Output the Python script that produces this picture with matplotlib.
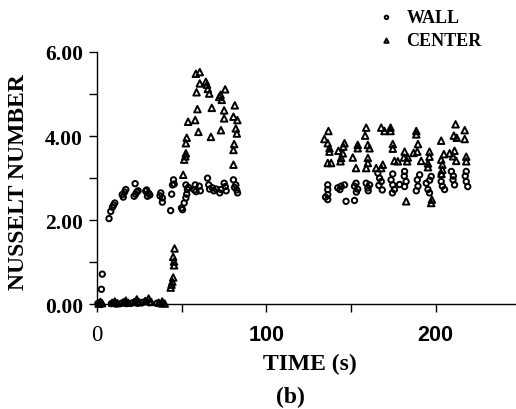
import numpy as np
import matplotlib
matplotlib.use('Agg')
import matplotlib.pyplot as plt
from matplotlib.ticker import MultipleLocator, FormatStrFormatter

# wall thermocouple, time (s) and Nusselt number
wall_t = [0.5, 1.5, 2.5, 8.5, 10, 11.5, 14.5, 16, 17.5, 21, 22.5, 24, 27, 29, 31, 35.5, 37, 38.5,
          2.6, 3.1,
          7.1, 8.1, 9.1, 10.5, 9.8, 14.9, 15.5, 17.0, 16.3, 21.9, 22.5, 23.5, 22.8, 24.3,
          28.8, 29.8, 30.5, 31.2, 29.3, 37.7, 38.6, 38.6, 37.2, 43.5, 44.1, 45.6, 45.2, 44.6,
          49.9, 50.5, 51.5, 52.5, 52.5, 53.4, 54.0, 53.0, 58, 57.5, 58.5, 60.4, 61, 65.3, 66,
          66.5, 68.2, 69, 70.5, 73.2, 72.5, 75.1, 75.8, 76.3, 80.6, 82, 81.2, 83, 82.5,
          136.3, 136.3, 136.3, 136.3, 135, 142.2, 144.2, 146.2, 143.5, 147.1, 152.1, 152.1,
          153, 154, 153.2, 159, 160, 161, 160.2, 165.9, 166.9, 167.9, 166.5, 168.5, 173.7,
          174.7, 175.7, 174.5, 174.7, 178.7, 181.7, 181.5, 182.6, 181.7, 189.2, 190.6, 189.6,
          188.6, 194.5, 195.5, 196.5, 197.4, 196.4, 203.3, 204, 203.3, 205.3, 209.3, 210.3,
          211.2, 210.5, 218.1, 217.5, 218.1, 219]
wall_nu = [0.02, 0.04, 0.0, 0.02, 0.03, 0.01, 0.03, 0.05, 0.02, 0.04, 0.06, 0.03, 0.05, 0.08, 0.04, 0.03, 0.01, 0.02,
           0.36, 0.72,
           2.04, 2.21, 2.31, 2.41, 2.36, 2.61, 2.55, 2.73, 2.67, 2.57, 2.87, 2.67, 2.62, 2.70,
           2.69, 2.57, 2.64, 2.60, 2.72, 2.65, 2.53, 2.43, 2.58, 2.23, 2.62, 2.86, 2.96, 2.84,
           2.29, 2.25, 2.41, 2.53, 2.84, 2.73, 2.78, 2.62, 2.84, 2.72, 2.68, 2.81, 2.70, 3.00, 2.84,
           2.74, 2.77, 2.70, 2.74, 2.73, 2.65, 2.88, 2.80, 2.70, 2.96, 2.84, 2.78, 2.65, 2.72,
           2.84, 2.73, 2.61, 2.49, 2.55, 2.77, 2.81, 2.84, 2.73, 2.45, 2.47, 2.81,
           2.88, 2.74, 2.67, 2.88, 2.77, 2.84, 2.70, 3.12, 3.00, 2.92, 2.83, 2.72, 2.96,
           2.84, 2.73, 2.65, 3.10, 2.85, 3.16, 3.05, 2.92, 2.80, 2.96, 3.08, 2.81,
           2.70, 2.88, 2.73, 2.95, 3.04, 2.65, 2.92, 2.81, 3.08, 2.73, 3.16, 2.96,
           2.84, 3.05, 3.16, 3.05, 2.92, 2.80]

# centre thermocouple
center_t = [1, 2, 3, 9, 10.5, 12, 15.5, 17, 18.5, 22, 23.5, 25, 28.5, 30.5, 32, 36.5, 38.5, 40,
            43.5, 44, 44.5, 45, 45.5, 45.5, 45, 45.8,
            50.9, 51.5, 52.5, 52.5, 53, 52.2, 53.8, 58, 59.9, 59.3, 58.8, 58.4, 60.7, 60.7, 64.3,
            65, 65.5, 66.3, 67.8, 67.3, 72.2, 73.7, 73, 75.7, 73.2, 75.1, 75.1, 81.4, 80.6, 82.9,
            82, 82.6, 81, 80.6, 80.6,
            136.7, 134.3, 136.3, 137.3, 137.3, 146.2, 145.5, 142.6, 145.2, 144.2, 143.8, 136.3,
            138.3, 154, 154, 151.1, 153, 159, 158.4, 160, 161, 160, 160, 159, 167.9, 169.8,
            173.4, 173.4, 174.7, 174.7, 175.7, 168.8, 167.9, 164.9, 188.6, 188.6, 189.6, 189.2,
            187, 181.7, 181.3, 183.6, 183.2, 177.7, 191.5, 196.4, 196.4, 195.5, 195.5, 203.3,
            204.9, 203.3, 204, 204, 203.5, 208.3, 211.2, 210.3, 211.8, 210.8, 212.5, 217.2,
            217.2, 212.2, 218.1, 218.1, 182.6, 197.8, 197.4]
center_nu = [0.02, 0.06, 0.03, 0.04, 0.07, 0.03, 0.05, 0.09, 0.04, 0.06, 0.12, 0.05, 0.08, 0.14, 0.06, 0.04, 0.07, 0.02,
             0.40, 0.47, 0.54, 0.64, 0.93, 1.02, 1.13, 1.33,
             3.08, 3.44, 3.59, 3.83, 3.96, 3.52, 4.34, 4.38, 4.10, 4.64, 5.04, 5.48, 5.52, 5.25, 5.29,
             5.22, 5.12, 5.01, 4.67, 3.98, 4.93, 4.86, 4.98, 5.11, 4.14, 4.61, 4.42, 4.73, 4.46, 4.38,
             4.18, 4.06, 3.81, 3.67, 3.32,
             4.12, 3.93, 3.83, 3.71, 3.63, 3.83, 3.75, 3.65, 3.59, 3.48, 3.40, 3.36,
             3.36, 3.79, 3.71, 3.49, 3.24, 4.20, 4.01, 3.79, 3.71, 3.48, 3.36, 3.24, 4.20, 4.12,
             4.20, 4.12, 3.81, 3.70, 3.41, 3.32, 3.24, 3.24, 4.12, 4.04, 3.81, 3.63,
             3.60, 3.63, 3.49, 3.49, 3.40, 3.40, 3.41, 3.63, 3.51, 3.35, 3.26, 3.89,
             3.57, 3.44, 3.32, 3.20, 3.10, 3.59, 3.65, 3.52, 4.28, 4.01, 3.96, 4.14,
             3.93, 3.41, 3.51, 3.40, 2.45, 2.49, 2.41]

serif = 'Liberation Serif'
sans = 'Liberation Sans'

fig = plt.figure(figsize=(5.16, 4.10), dpi=100)
ax = fig.add_axes([0.188, 0.255, 0.812, 0.616])

ax.scatter(wall_t, wall_nu, marker='o', s=15, facecolors='none', edgecolors='black',
           linewidths=1.4, label='WALL', clip_on=False, zorder=3)
ax.scatter(center_t, center_nu, marker='^', s=22, facecolors='none', edgecolors='black',
           linewidths=1.4, label='CENTER', clip_on=False, zorder=3)

ax.set_xlim(0, 247.5)
ax.set_ylim(0, 6)
ax.spines['top'].set_visible(False)
ax.spines['right'].set_visible(False)
ax.spines['left'].set_linewidth(1.0)
ax.spines['bottom'].set_linewidth(1.0)

ax.xaxis.set_major_locator(MultipleLocator(100))
ax.xaxis.set_minor_locator(MultipleLocator(50))
ax.yaxis.set_major_locator(MultipleLocator(2))
ax.yaxis.set_minor_locator(MultipleLocator(1))
ax.yaxis.set_major_formatter(FormatStrFormatter('%.2f'))
ax.tick_params(which='both', direction='out', length=6, width=1.0, colors='black')
ax.tick_params(axis='x', pad=8)
ax.tick_params(axis='y', pad=4)

for lab in ax.get_yticklabels():
    lab.set_fontfamily(serif)
    lab.set_fontweight('bold')
    lab.set_fontsize(15.5)
for lab in ax.get_xticklabels():
    lab.set_fontfamily(sans)
    lab.set_fontweight('bold')
    lab.set_fontsize(15.5)
# scanned labels are in mixed type faces
ax.get_xticklabels()[1].set_fontfamily(serif)
ax.get_xticklabels()[1].set_fontweight('normal')
ax.get_xticklabels()[1].set_fontsize(16.5)
ax.get_yticklabels()[0].set_fontfamily(sans)
ax.get_yticklabels()[0].set_fontsize(14.5)

fig.text(0.035, 0.556, 'NUSSELT NUMBER', rotation=90, ha='center', va='center',
         fontfamily=serif, fontweight='bold', fontsize=17)
fig.text(0.60, 1 - 364 / 410, 'TIME (s)', ha='center', va='center',
         fontfamily=serif, fontweight='bold', fontsize=17)
fig.text(0.562, 1 - 397 / 410, '(b)', ha='center', va='center',
         fontfamily=serif, fontweight='bold', fontsize=17)

leg = fig.legend(loc='upper left', bbox_to_anchor=(0.70, 1.015), frameon=False,
                 markerscale=0.65, handletextpad=0.6, labelspacing=0.35, handlelength=1.0,
                 prop={'family': serif, 'weight': 'bold', 'size': 13})

fig.savefig('out.png', dpi=100)
